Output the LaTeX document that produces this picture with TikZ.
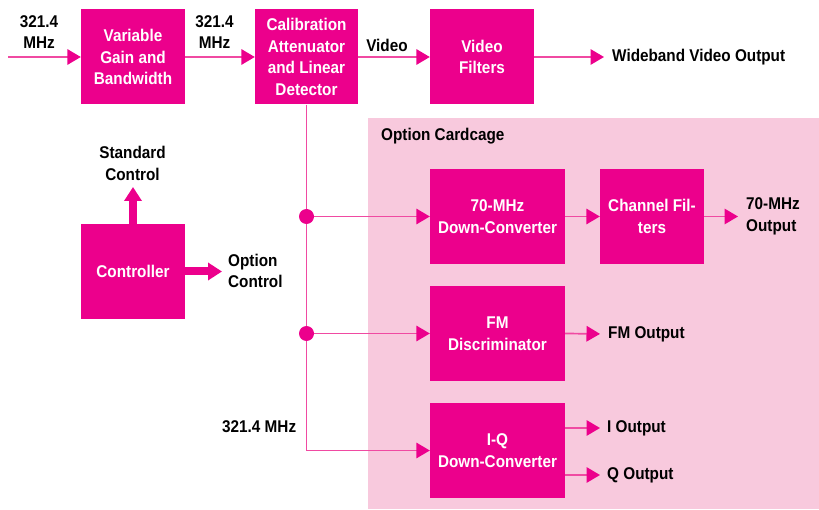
\documentclass[tikz,border=0pt]{standalone}
\usepackage{fontspec}
\setmainfont{Liberation Sans}[FakeStretch=0.9]
\usetikzlibrary{arrows.meta}
\definecolor{mag}{HTML}{EC008C}
\definecolor{wirec}{HTML}{F04AA2}
\definecolor{cage}{HTML}{F8C9DD}

\begin{document}
\begin{tikzpicture}[x=1pt,y=-1pt,
  txt/.style={font=\fontsize{17}{21.5}\selectfont\bfseries, align=center, inner sep=0pt},
  blk/.style={txt, fill=mag, text=white, minimum width=104pt, minimum height=95pt},
  wideblk/.style={blk, minimum width=135pt},
  lbl/.style={txt, text=black},
  sig/.style={draw=wirec, line width=1.7pt, -{Triangle[length=13.5pt,width=15.5pt,color=mag]}},
  bigarrow/.style={draw=mag, line width=8pt, -{Triangle[length=14pt,width=17pt]}},
  dot/.style={fill=mag}
]
\useasboundingbox (0,0) rectangle (819,510);

% option cardcage background
\node[fill=cage, anchor=north west, minimum width=451pt, minimum height=391pt, inner sep=0pt] (cardcage) at (368,118) {};
\node[lbl, anchor=west] (cagelbl) at (381,136.5) {Option Cardcage};

% blocks
\node[blk] (vgb) at (133,57) {Variable\\Gain and\\Bandwidth};
\node[blk, minimum width=103pt] (cal) at (306.5,57) {Calibration\\Attenuator\\and Linear\\Detector};
\node[blk] (vf) at (482,57) {Video\\Filters};
\node[blk] (ctrl) at (133,271.5) {Controller};
\node[wideblk] (dc70) at (497.5,216.5) {70-MHz\\Down-Converter};
\node[blk] (cf) at (652,216.5) {Channel Fil-\\ters};
\node[wideblk] (fm) at (497.5,333.5) {FM\\Discriminator};
\node[wideblk] (iq) at (497.5,450.5) {I-Q\\Down-Converter};

% labels
\node[lbl] (in1) at (39,32) {321.4\\MHz};
\node[lbl] (in2) at (214.5,32) {321.4\\MHz};
\node[lbl] (vid) at (387,45) {Video};
\node[lbl, anchor=west] (wvo) at (612,57) {Wideband Video Output};
\node[lbl] (stdc) at (132.5,163.5) {Standard\\Control};
\node[lbl, anchor=west, align=left] (optc) at (228,271) {Option\\Control};
\node[lbl, anchor=west, align=left] (o70) at (746,216.5) {70-MHz\\Output};
\node[lbl, anchor=west] (fmo) at (608,334) {FM Output};
\node[lbl, anchor=west] (ifreq) at (222,427) {321.4 MHz};
\node[lbl, anchor=west] (io) at (607,428) {I Output};
\node[lbl, anchor=west] (qo) at (607,475) {Q Output};

% free ends
\coordinate (src) at (8,57);
\coordinate (stdtip) at (133,187);
\coordinate (opttip) at (222,271.5);
\coordinate (j1) at (cal.south |- dc70.west);
\coordinate (j2) at (cal.south |- fm.west);

% main signal path
\draw[sig] (src) -- (vgb.west);
\draw[sig] (vgb.east) -- (cal.west);
\draw[sig] (cal.east) -- (vf.west);
\draw[sig, shorten >=8pt] (vf.east) -- (wvo.west);

% IF distribution to the options
\draw[sig] (cal.south) |- (iq.west);
\draw[sig] (j1) -- (dc70.west);
\draw[sig] (j2) -- (fm.west);
\fill[dot] (j1) circle (7.5pt);
\fill[dot] (j2) circle (7.5pt);

% option outputs
\draw[sig] (dc70.east) -- (cf.west);
\draw[sig, shorten >=8pt] (cf.east) -- (o70.west);
\draw[sig, shorten >=8pt] (fm.east) -- (fmo.west);
\draw[sig, shorten >=7pt] (iq.east |- io.west) -- (io.west);
\draw[sig, shorten >=7pt] (iq.east |- qo.west) -- (qo.west);

% controller outputs
\draw[bigarrow] (ctrl.north) -- (stdtip);
\draw[bigarrow] (ctrl.east) -- (opttip);
\end{tikzpicture}
\end{document}
